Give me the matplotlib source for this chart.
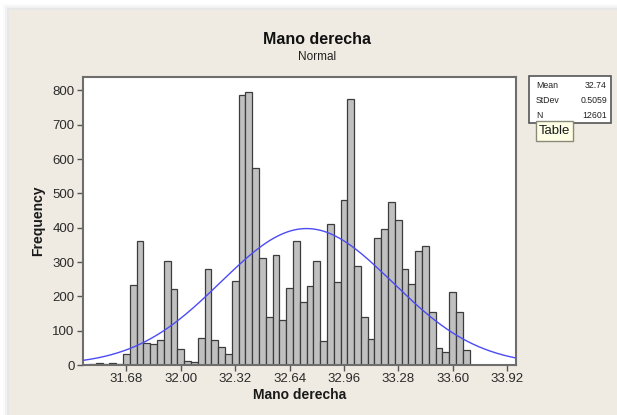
import numpy as np
import matplotlib
matplotlib.use("Agg")
import matplotlib.pyplot as plt
from matplotlib.patches import Rectangle

# ------------------------------------------------------------
# Data (bin midpoints, width 0.04)
bin_start = 31.48
bin_width = 0.04
counts = [4, 5, 4, 5, 4,
          31, 232, 361, 65, 60, 72, 302, 220, 48, 13,
          9, 80, 279, 72, 51, 31, 246, 788, 794, 575,
          312, 139, 321, 130, 223, 361, 183, 229, 302, 70,
          412, 241, 480, 774, 288, 139, 77, 371, 395, 474,
          423, 279, 236, 333, 346, 154, 50, 38, 212, 154,
          45]
x_ticks = [31.68, 32.00, 32.32, 32.64, 32.96, 33.28, 33.60, 33.92]
y_ticks = [0, 100, 200, 300, 400, 500, 600, 700, 800]

# Summary statistics shown in the legend table
mean = 32.74
stdev = 0.5059
n_obs = 12601

# ------------------------------------------------------------
W, H = 617, 415
fig = plt.figure(figsize=(W / 100, H / 100), dpi=100, facecolor="white")
plt.rcParams["font.family"] = ["Liberation Sans", "DejaVu Sans"]

def px(x, y, w, h):
    """pixel box (top-left origin) -> figure fraction"""
    return [x / W, 1 - (y + h) / H, w / W, h / H]

# background panel with a soft shadow
for i, a in enumerate([0.04, 0.06, 0.09]):
    off = 6 - 2 * i
    fig.patches.append(Rectangle(((9 - off) / W, 0), 1, 1 - (10 - off) / H,
                                 transform=fig.transFigure, color="gray", alpha=a,
                                 lw=0, zorder=-4))
fig.patches.append(Rectangle((9 / W, 0), 1, 1 - 10 / H, transform=fig.transFigure,
                             color="#EFEBE2", lw=0, zorder=-3))

ax = fig.add_axes(px(83, 77, 433, 288))
ax.set_facecolor("white")

mids = bin_start + bin_width * np.arange(len(counts))
ax.bar(mids, counts, width=bin_width, color="#C0C0C0", edgecolor="#3C3C3C",
       linewidth=0.9, zorder=2)

# fitted normal curve, scaled to counts
xs = np.linspace(31.424, 33.973, 400)
curve = n_obs * bin_width / (stdev * np.sqrt(2 * np.pi)) * np.exp(-0.5 * ((xs - mean) / stdev) ** 2)
ax.plot(xs, curve, color="#4B4BF5", linewidth=1.0, zorder=3)

ax.set_xlim(31.424, 33.973)
ax.set_ylim(0, 839)
ax.set_xticks(x_ticks)
ax.set_xticklabels([f"{t:.2f}" for t in x_ticks])
ax.set_yticks(y_ticks)
ax.tick_params(direction="out", length=4, width=1, color="#555555",
               labelsize=9.5, labelcolor="#2A2A2A", pad=2)
for s in ax.spines.values():
    s.set_color("#6E6E6E")
    s.set_linewidth(1.5)

ax.set_xlabel("Mano derecha", fontsize=10, fontweight="bold", color="#1A1A1A", labelpad=2)
fig.text(38 / W, 1 - 221 / H, "Frequency", rotation=90, ha="center", va="center",
         fontsize=10, fontweight="bold", color="#1A1A1A")

fig.text(317 / W, 1 - 40 / H, "Mano derecha", ha="center", va="center",
         fontsize=11.5, fontweight="bold", color="#111111")
fig.text(317 / W, 1 - 57 / H, "Normal", ha="center", va="center",
         fontsize=8.5, color="#222222")

# stats table
fig.patches.append(Rectangle((529 / W, 1 - 123 / H), 82 / W, 47 / H,
                             transform=fig.transFigure, facecolor="white",
                             edgecolor="#555555", lw=1.2, zorder=5))
rows = [("Mean", f"{mean:.2f}"), ("StDev", f"{stdev:.4f}"), ("N", f"{n_obs}")]
for i, (lab, val) in enumerate(rows):
    yy = 1 - (86 + 14.5 * i) / H
    fig.text(536 / W, yy, lab, ha="left", va="center", fontsize=6.3, color="#222222", zorder=6)
    fig.text(607 / W, yy, val, ha="right", va="center", fontsize=6.3, color="#222222", zorder=6)

# tooltip
fig.patches.append(Rectangle((536 / W, 1 - 141 / H), 37 / W, 20 / H,
                             transform=fig.transFigure, facecolor="#FFFFE6",
                             edgecolor="#8A8A7A", lw=1.0, zorder=7))
fig.text(554.5 / W, 1 - 131 / H, "Table", ha="center", va="center",
         fontsize=9.5, color="#1A1A1A", zorder=8)

fig.savefig("out.png", dpi=100, facecolor=fig.get_facecolor())
